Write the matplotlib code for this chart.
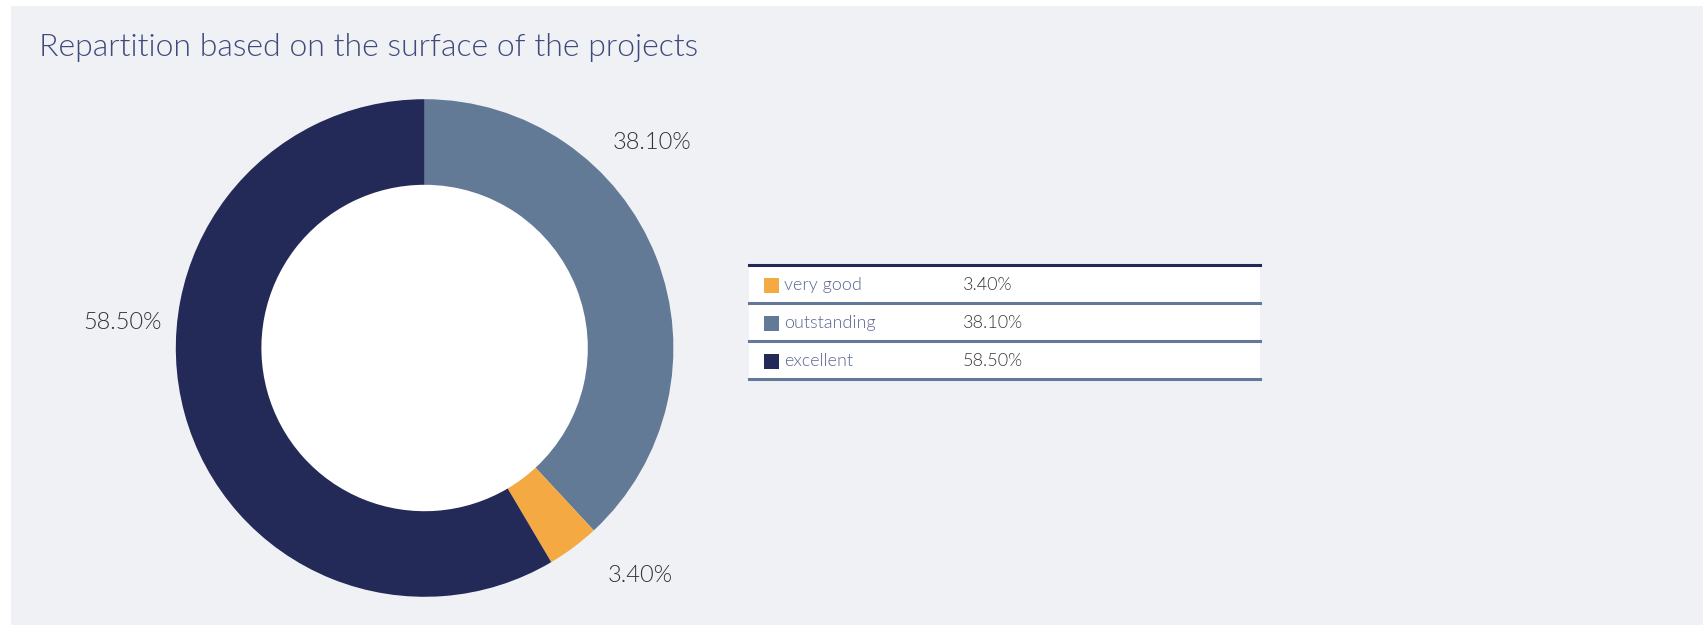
import matplotlib
matplotlib.use("Agg")
import matplotlib.pyplot as plt
from matplotlib.patches import Rectangle
from matplotlib.lines import Line2D

plt.rcParams['font.family'] = ['Lato', 'DejaVu Sans']
plt.rcParams['font.weight'] = 300

title = "Repartition based on the surface of the projects"
categories = ["very good", "outstanding", "excellent"]
shares = [3.40, 38.10, 58.50]
colors = ["#f5a942", "#637a96", "#232a57"]

# label anchor points in pie units (radius = 1)
label_xy = {"very good": (0.866, -0.916),
            "outstanding": (0.914, 0.824),
            "excellent": (-1.216, 0.104)}

W, H = 1707, 625
fig = plt.figure(figsize=(W / 100, H / 100), dpi=100, facecolor="white")

# panel background
fig.patches.append(Rectangle((11 / W, 0), (1703 - 11) / W, (H - 6) / H,
                             transform=fig.transFigure, facecolor="#f0f1f5",
                             edgecolor="none", zorder=-10))

fig.text(39 / W, 1 - 47 / H, title, fontsize=23, color="#3f4a7c",
         va="center", ha="left")

# donut: outstanding starts at 12 o'clock, clockwise
order = [1, 0, 2]
cx, cy, R = 424.6, 348.0, 248.8
ax = fig.add_axes([(cx - R) / W, (H - cy - R) / H, 2 * R / W, 2 * R / H])
ax.set_zorder(5)
ax.patch.set_visible(False)
ax.pie([shares[i] for i in order], colors=[colors[i] for i in order],
       startangle=90, counterclock=False, radius=1,
       wedgeprops=dict(width=0.344, linewidth=0))
ax.add_patch(plt.Circle((0, 0), 0.656, color="white", zorder=0.5))
ax.set_xlim(-1, 1)
ax.set_ylim(-1, 1)
ax.set_aspect("equal")
ax.axis("off")
for name, val in zip(categories, shares):
    lx, ly = label_xy[name]
    ax.text(lx, ly, f"{val:.2f}%", fontsize=17, color="#333333",
            ha="center", va="center", clip_on=False)

# legend table
x0, x1 = 749, 1260
rows_y = [264.5, 302.6, 340.8, 378.9]
for i, (name, val, c) in enumerate(zip(categories, shares, colors)):
    top, bot = rows_y[i], rows_y[i + 1]
    fig.patches.append(Rectangle((x0 / W, 1 - bot / H), (x1 - x0) / W, (bot - top) / H,
                                 transform=fig.transFigure, facecolor="white",
                                 edgecolor="none", zorder=1))
    mid = (top + bot) / 2 + 1.5
    fig.patches.append(Rectangle((764 / W, 1 - (mid + 7.5) / H), 15 / W, 15 / H,
                                 transform=fig.transFigure, facecolor=c,
                                 edgecolor="none", zorder=2))
    fig.text(784 / W, 1 - mid / H, name, fontsize=13, color="#5b6690",
             va="center", ha="left", zorder=3)
    fig.text(963 / W, 1 - mid / H, f"{val:.2f}%", fontsize=13, color="#3a3a3a",
             va="center", ha="left", zorder=3)

for j, y in enumerate(rows_y):
    fig.lines.append(Line2D([x0 / W, x1 / W], [1 - y / H, 1 - y / H],
                            transform=fig.transFigure, linewidth=2.2,
                            color="#232a57" if j == 0 else "#64789a", zorder=4))

fig.savefig("out.png", dpi=100, facecolor=fig.get_facecolor())
